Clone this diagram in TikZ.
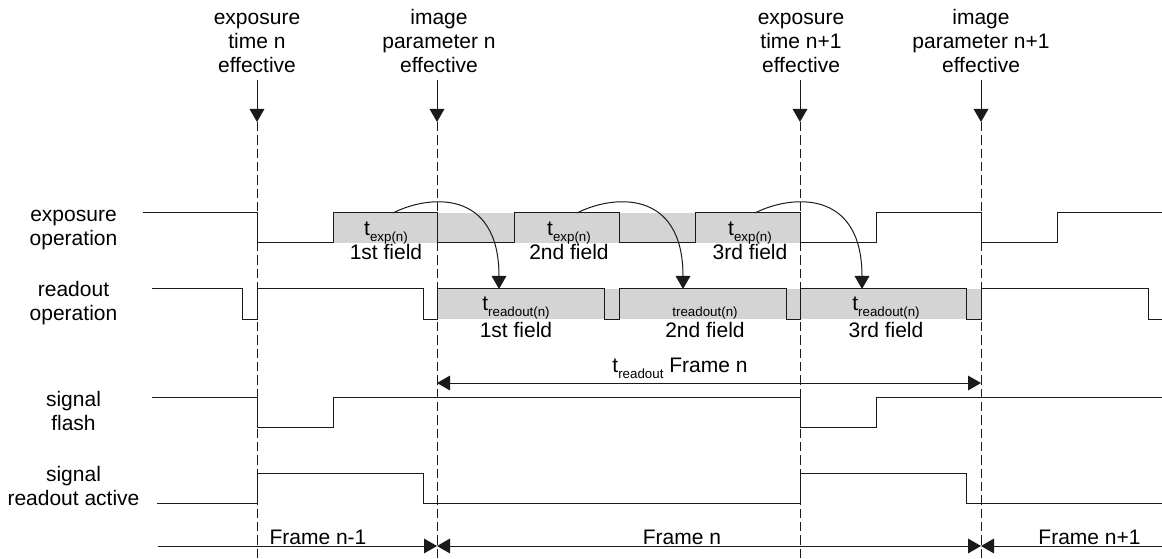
\documentclass[tikz,border=0pt]{standalone}
\usepackage{fontspec}
\setmainfont{Liberation Sans}
\usetikzlibrary{arrows.meta}
\definecolor{wline}{HTML}{1A1A1A}
\definecolor{wband}{HTML}{D4D4D4}
\newcommand{\tsub}[1]{\raisebox{-4.5pt}{\fontsize{10}{12}\selectfont #1}}
\tikzset{
  sig/.style={draw=wline,line width=0.75pt},
  band/.style={fill=wband},
  vline/.style={draw=wline,line width=0.75pt,dash pattern=on 7pt off 3pt},
  arr/.style={-{Triangle[length=9.75pt,width=11pt]},draw=wline,line width=0.75pt},
  darr/.style={{Triangle[length=9.75pt,width=11pt]}-{Triangle[length=9.75pt,width=11pt]},draw=wline,line width=0.75pt},
  lbl/.style={font=\fontsize{15.75}{18}\selectfont,align=center,inner sep=0pt},
  blbl/.style={lbl,anchor=base},
}
\begin{document}
\begin{tikzpicture}[x=0.75pt,y=-0.75pt]
  \useasboundingbox (0,0) rectangle (1162,559);
  \coordinate (base) at (0,559);

  % gray bands behind the fields
  \fill[band] (333,213) rectangle (800,243);
  \fill[band] (437,289) rectangle (981,319);

  % events on top, with their dashed markers
  \foreach \i/\x/\lx/\txt in {
      1/257/257/{exposure\\\strut time n},
      2/437/439/{image\\\strut parameter n},
      3/800/801/{exposure\\\strut time n+1},
      4/981/981/{image\\\strut parameter n+1}}
  {
    \node[lbl] (ev\i) at (\lx,44) {\strut\txt\\\strut effective};
    \coordinate (d\i) at (\x,122);
    \draw[arr] (ev\i.south -| d\i) -- (d\i);
    \draw[vline] (d\i) -- (d\i |- base);
  }

  % signal names
  \node[lbl] (nexp) at (73.5,229) {\strut exposure\\\strut operation};
  \node[lbl] (nrd) at (73.5,303.5) {\strut readout\\\strut operation};
  \node[lbl] (nfl) at (73.5,413.5) {\strut signal\\\strut flash};
  \node[lbl] (nact) at (73.5,488.5) {\strut signal\\\strut readout active};

  % exposure operation
  \draw[sig] (143,213) -- (257,213) -- (257,243) -- (333,243) -- (333,213)
    -- (437,213) -- (437,243) -- (514,243) -- (514,213) -- (619,213)
    -- (619,243) -- (695,243) -- (695,213) -- (800,213) -- (800,243)
    -- (876,243) -- (876,213) -- (981,213) -- (981,243) -- (1057,243)
    -- (1057,213) -- (1162,213);
  % readout operation
  \draw[sig] (152,289) -- (242,289) -- (242,319) -- (257,319) -- (257,289)
    -- (423,289) -- (423,319) -- (437,319) -- (437,289) -- (604,289)
    -- (604,319) -- (619,319) -- (619,289) -- (786,289) -- (786,319)
    -- (800,319) -- (800,289) -- (966,289) -- (966,319) -- (981,319)
    -- (981,289) -- (1148,289) -- (1148,319) -- (1162,319);
  % signal flash
  \draw[sig] (152,397) -- (257,397) -- (257,427) -- (333,427) -- (333,397)
    -- (800,397) -- (800,427) -- (876,427) -- (876,397) -- (1162,397);
  % signal readout active
  \draw[sig] (157,503) -- (257,503) -- (257,473) -- (423,473) -- (423,503)
    -- (800,503) -- (800,473) -- (966,473) -- (966,503) -- (1162,503);

  % field labels
  \node[lbl] (x1) at (386,243) {\strut t\tsub{exp(n)}\\[-2pt]\strut 1st field};
  \node[lbl] (x2) at (569,243) {\strut t\tsub{exp(n)}\\[-2pt]\strut 2nd field};
  \node[lbl] (x3) at (750,243) {\strut t\tsub{exp(n)}\\[-2pt]\strut 3rd field};
  \node[lbl] (r1) at (516,319) {\strut t\tsub{readout(n)}\\\strut 1st field};
  \node[lbl] (r2) at (705,319) {\strut\tsub{treadout(n)}\\\strut 2nd field};
  \node[lbl] (r3) at (886,319) {\strut t\tsub{readout(n)}\\\strut 3rd field};

  % exposure hands over to readout
  \foreach \i/\s/\t in {1/393/499, 2/577/683, 3/755/862}
  {
    \coordinate (es\i) at (\s,213);
    \coordinate (rt\i) at (\t,289);
    \draw[arr] (es\i) .. controls +(35,-18) and +(0,-101) .. (rt\i);
  }

  % readout time of frame n
  \coordinate (t1) at (437,383);
  \coordinate (t2) at (981,383);
  \draw[darr] (t1) -- (t2);
  \node[blbl] (tlab) at (680,372) {t\tsub{readout} Frame n};

  % frames
  \coordinate (f0) at (158,546);
  \coordinate (f1) at (437,546);
  \coordinate (f2) at (981,546);
  \coordinate (f3) at (1162,546);
  \draw[arr] (f0) -- (f1);
  \draw[darr] (f1) -- (f2);
  \draw[arr] (f3) -- (f2);
  \node[blbl] (fr1) at (318,544) {Frame n-1};
  \node[blbl] (fr2) at (682,544) {Frame n};
  \node[blbl] (fr3) at (1089.5,544) {Frame n+1};
\end{tikzpicture}
\end{document}
